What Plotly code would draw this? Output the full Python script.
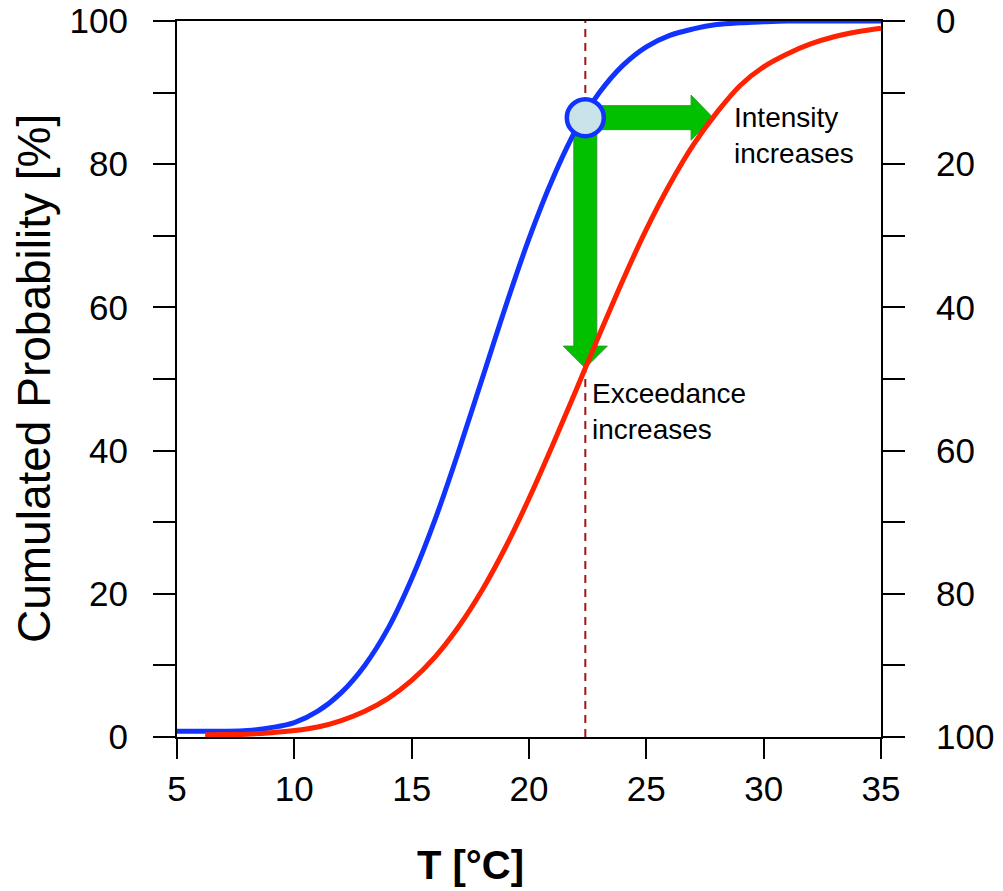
import numpy as np
import plotly.graph_objects as go

# ---- data ----
T_blue = [5, 6, 7, 8, 9, 10, 11, 12, 13, 14, 15, 16, 17, 18, 19, 20, 21, 22, 23, 24,
          25, 26, 27, 28, 29, 30, 31, 32, 33, 34, 35]
P_blue = [0.8, 0.8, 0.8, 0.9, 1.3, 2.0, 3.6, 6.2, 10.0, 15.2, 22.1, 30.4, 39.9, 50.0,
          60.1, 69.6, 77.9, 84.8, 90.0, 93.8, 96.4, 98.0, 98.9, 99.5, 99.76, 99.9,
          100, 100, 100, 100, 100]

T_red = [6.2, 7, 8, 9, 10, 11, 12, 13, 14, 15, 16, 17, 18, 19, 20, 21, 22, 23, 24,
         25, 26, 27, 28, 29, 30, 31, 32, 33, 34, 35]
P_red = [0.3, 0.35, 0.4, 0.6, 0.9, 1.4, 2.3, 3.6, 5.4, 7.9, 11.2, 15.4, 20.5, 26.5,
         33.3, 40.7, 48.4, 56.2, 63.8, 70.9, 77.2, 82.7, 87.2, 91.0, 93.6, 95.4,
         96.8, 97.8, 98.5, 99.0]

x_ticks = [5, 10, 15, 20, 25, 30, 35]
y_left_ticks = [0, 20, 40, 60, 80, 100]
y_right_ticks = [0, 20, 40, 60, 80, 100]

T_mark = 22.4     # threshold temperature (dashed line / circle)
P_mark = 86.5     # cumulated probability of the blue curve at T_mark

# ---- layout geometry ----
W, H = 1003, 891
ML, MR, MT, MB = 177, 122, 21, 154
XR = [5, 35]
YR = [0, 100]
px_x = (W - ML - MR) / (XR[1] - XR[0])
px_y = (H - MT - MB) / (YR[1] - YR[0])

FONT = "Arial, Liberation Sans, sans-serif"
GREEN = "#00c000"
GREEN_EDGE = "#2f9a2f"

fig = go.Figure()

# dashed threshold line
fig.add_trace(go.Scatter(x=[T_mark, T_mark], y=[0, 100], mode="lines",
                         line=dict(color="#a31515", width=2, dash="8px,6px"),
                         hoverinfo="skip", showlegend=False))

# arrows (computed from the marker point and the red curve)
Tr = np.array(T_red); Pr = np.array(P_red)
T_tip = float(np.interp(P_mark, Pr, Tr))
P_tip = float(np.interp(T_mark, Tr, Pr))

sw = 12 / px_y; hw = 22.5 / px_y; hl = 22 / px_x
Th = T_tip - hl
hx = [T_mark, Th, Th, T_tip, Th, Th, T_mark, T_mark]
hy = [P_mark + sw, P_mark + sw, P_mark + hw, P_mark, P_mark - hw, P_mark - sw, P_mark - sw, P_mark + sw]
fig.add_trace(go.Scatter(x=hx, y=hy, mode="lines", fill="toself", fillcolor=GREEN,
                         line=dict(color=GREEN_EDGE, width=1), hoverinfo="skip", showlegend=False))

swx = 11.5 / px_x; hwx = 22 / px_x; hly = 22 / px_y
Ph = P_tip + hly
vx = [T_mark - swx, T_mark - swx, T_mark - hwx, T_mark, T_mark + hwx, T_mark + swx, T_mark + swx, T_mark - swx]
vy = [P_mark, Ph, Ph, P_tip, Ph, Ph, P_mark, P_mark]
fig.add_trace(go.Scatter(x=vx, y=vy, mode="lines", fill="toself", fillcolor=GREEN,
                         line=dict(color=GREEN_EDGE, width=1), hoverinfo="skip", showlegend=False))

# curves
fig.add_trace(go.Scatter(x=T_blue, y=P_blue, mode="lines", line=dict(color="#1133ff", width=5, shape="spline"),
                         hoverinfo="skip", showlegend=False))
fig.add_trace(go.Scatter(x=T_red, y=P_red, mode="lines", line=dict(color="#ff2200", width=5, shape="spline"),
                         hoverinfo="skip", showlegend=False))

# circle marker
fig.add_trace(go.Scatter(x=[T_mark], y=[P_mark], mode="markers",
                         marker=dict(size=37, color="#c8e4ea", line=dict(color="#1133ff", width=4.5)),
                         hoverinfo="skip", showlegend=False))

# invisible trace for the right axis
fig.add_trace(go.Scatter(x=[5], y=[0], yaxis="y2", mode="markers", marker=dict(opacity=0),
                         hoverinfo="skip", showlegend=False))

axis_common = dict(showline=True, linecolor="black", linewidth=2, ticks="outside",
                   tickcolor="black", tickwidth=2, showgrid=False, zeroline=False,
                   automargin=False,
                   tickfont=dict(family=FONT, size=35, color="black"))

fig.update_layout(
    width=W, height=H, margin=dict(l=ML, r=MR, t=MT, b=MB, autoexpand=False),
    plot_bgcolor="white", paper_bgcolor="white",
    xaxis=dict(range=XR, tickvals=x_ticks, ticklen=20, mirror=True, ticklabelstandoff=0, **axis_common),
    yaxis=dict(range=YR, tickvals=y_left_ticks, ticklen=22, ticklabelstandoff=18,
               minor=dict(dtick=10, ticks="outside", ticklen=22, tickwidth=2, tickcolor="black"),
               **axis_common),
    yaxis2=dict(range=[100, 0], tickvals=y_right_ticks, ticklen=22, overlaying="y", side="right",
                ticklabelstandoff=24,
                minor=dict(dtick=10, ticks="outside", ticklen=22, tickwidth=2, tickcolor="black"),
                **axis_common),
    annotations=[
        dict(text="Cumulated Probability [%]", xref="paper", yref="paper", x=(34 - ML) / (W - ML - MR),
             y=0.5, textangle=-90, showarrow=False, xanchor="center", yanchor="middle",
             font=dict(family=FONT, size=46, color="black")),
        dict(text="<b>T [°C]</b>", xref="paper", yref="paper", x=(470 - ML) / (W - ML - MR),
             y=(H - MB - 865) / (H - MT - MB), showarrow=False, xanchor="center", yanchor="middle",
             font=dict(family=FONT, size=40, color="black")),
        dict(text="Intensity<br>increases", x=28.65, y=84.0, xref="x", yref="y", showarrow=False,
             xanchor="left", yanchor="middle", align="left",
             font=dict(family=FONT, size=28, color="black")),
        dict(text="Exceedance<br>increases", x=22.62, y=45.5, xref="x", yref="y", showarrow=False,
             xanchor="left", yanchor="middle", align="left",
             font=dict(family=FONT, size=28, color="black")),
    ],
)

fig.write_html("out.html", config={"displayModeBar": False},
               post_script="document.body.style.margin='0';")
